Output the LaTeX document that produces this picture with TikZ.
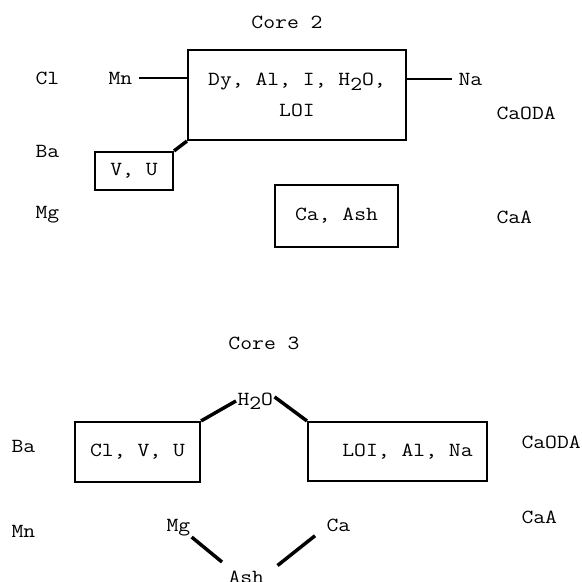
\documentclass[tikz,border=0pt]{standalone}
\usepackage{fontspec}
\setmainfont{Latin Modern Mono}[FakeStretch=1.15]
\usetikzlibrary{calc}

\newcommand\subtwo{\raisebox{-0.5ex}{2}}

\tikzset{every picture/.style={line width=0.75pt}}
\tikzset{
  box/.style={draw, line width=1.6pt, inner sep=0pt, align=center},
  lbl/.style={inner sep=0.75pt, anchor=base west},
  wire/.style={line width=1.2pt},
  bond/.style={line width=2.6pt},
}

\begin{document}
\begin{tikzpicture}[x=0.75pt,y=0.75pt,yscale=-1,xscale=1,font=\fontsize{15}{23}\selectfont]
    \useasboundingbox (0,0) rectangle (582,582);

    % Core 2
    \node (core2) [anchor=base] at (287,28) {Core 2};
    % Text Node
    \node (cl2) [lbl] at (34,84) {Cl};
    \node (mn2) [lbl] at (107,84) {Mn};
    \node (ba2) [lbl] at (34,157) {Ba};
    \node (mg2) [lbl] at (34,218) {Mg};
    \node (na2) [lbl] at (457,85) {Na};
    \node (caoda2) [lbl] at (495,119) {CaODA};
    \node (caa2) [lbl] at (495,223) {CaA};
    %Shape: Rectangle
    \node (dy) [box, minimum width=163.5pt, minimum height=67.5pt] at (297,95) {Dy, Al, I, H\subtwo O,\\LOI};
    \node (vu) [box, minimum width=58.5pt, minimum height=28.5pt] at (134,171) {V, U};
    \node (caash) [box, minimum width=92.25pt, minimum height=46.5pt] at (336.5,216) {Ca, Ash};
    %Straight Lines
    \draw [wire, shorten <=4pt] (mn2.east) -- (mn2.east -| dy.west);
    \draw [wire, shorten >=4pt] (na2.west -| dy.east) -- (na2.west);
    \draw [bond] (vu.north east) -- (dy.south west);

    % Core 3
    \node (core3) [anchor=base] at (264,349) {Core 3};
    % Text Node
    \node (h2o) [lbl] at (236,405) {H\subtwo O};
    \node (ba3) [lbl] at (10,452) {Ba};
    \node (mn3) [lbl] at (10,537) {Mn};
    \node (caoda3) [lbl] at (520,448) {CaODA};
    \node (caa3) [lbl] at (520,523) {CaA};
    \node (mg3) [lbl] at (165,531) {Mg};
    \node (ca3) [lbl] at (325,531) {Ca};
    \node (ash3) [lbl] at (227,583) {Ash};
    %Shape: Rectangle
    \node (clvu) [box, minimum width=93.75pt, minimum height=45pt] at (137.5,452) {Cl, V, U};
    \node (loi) [box, minimum width=134.25pt, minimum height=44.25pt] at (397.5,451.5) {\hspace*{15pt}LOI, Al, Na};
    %Straight Lines
    \draw [bond] (clvu.north east) -- (h2o.west);
    \draw [bond] ($(h2o.east)+(0,-4)$) -- (loi.north west);
    \draw [bond] (mg3.south east) -- ($(ash3.north west)+(-5,-7)$);
    \draw [bond] ($(ca3.south west)+(-10,3)$) -- ($(ash3.north east)+(12,-3.5)$);
\end{tikzpicture}
\end{document}
